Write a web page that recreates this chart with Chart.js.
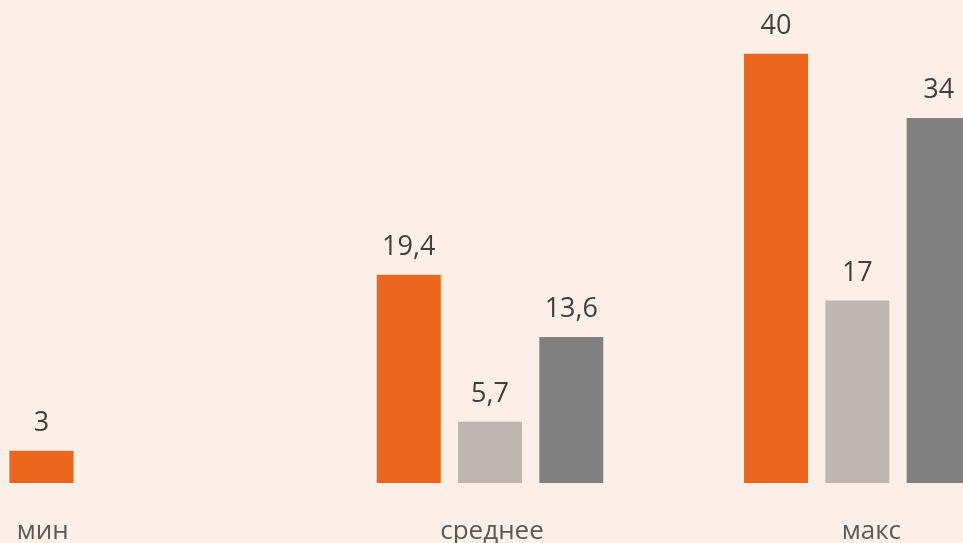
<!DOCTYPE html>
<html>
<head>
<meta charset="utf-8">
<script src="https://cdn.jsdelivr.net/npm/chart.js@4/dist/chart.umd.min.js"></script>
<style>
  html, body { margin: 0; padding: 0; background: #fcefe8; overflow: hidden; }
  #wrap { position: absolute; left: -61px; top: 0; width: 1102px; height: 543px; }
</style>
</head>
<body>
<div id="wrap"><canvas id="myChart"></canvas></div>
<script>
// categories and values
var categories = ['мин', 'среднее', 'макс'];
var seriesOrange = [3, 19.4, 40];
var seriesLight = [null, 5.7, 17];
var seriesDark = [null, 13.6, 34];

// horizontal nudges for the category captions (px)
var labelShift = [-80, 2, 14];

var fontFamily = "'Open Sans', 'Noto Sans', sans-serif";

function fmt(v) {
  return String(v).replace('.', ',');
}

var valueLabels = {
  id: 'valueLabels',
  afterDatasetsDraw: function (chart) {
    var ctx = chart.ctx;
    ctx.save();
    ctx.font = '27px ' + fontFamily;
    ctx.fillStyle = '#404040';
    ctx.textAlign = 'center';
    ctx.textBaseline = 'alphabetic';
    chart.data.datasets.forEach(function (ds, i) {
      chart.getDatasetMeta(i).data.forEach(function (bar, j) {
        if (ds.data[j] == null) return;
        ctx.fillText(fmt(ds.data[j]), bar.x, bar.y - 20);
      });
    });

    // category captions under the groups
    var xs = chart.scales.x;
    ctx.font = '26px ' + fontFamily;
    ctx.fillStyle = '#595959';
    categories.forEach(function (c, j) {
      ctx.fillText(c, xs.getPixelForValue(j) + labelShift[j], chart.chartArea.bottom + 56);
    });
    ctx.restore();
  }
};

const ctx = document.getElementById('myChart');

new Chart(ctx, {
  type: 'bar',
  data: {
    labels: categories,
    datasets: [
      { data: seriesOrange, backgroundColor: '#ec651c' },
      { data: seriesLight, backgroundColor: '#bfb6b3' },
      { data: seriesDark, backgroundColor: '#808080' }
    ]
  },
  options: {
    responsive: true,
    maintainAspectRatio: false,
    animation: false,
    layout: { padding: { top: 0, bottom: 60, left: 0, right: 0 } },
    datasets: {
      bar: { categoryPercentage: 0.664, barPercentage: 0.787, borderWidth: 0 }
    },
    plugins: {
      legend: { display: false },
      tooltip: { enabled: false }
    },
    scales: {
      x: { display: false },
      y: { display: false, min: 0, max: 45 }
    }
  },
  plugins: [valueLabels]
});
</script>
</body>
</html>
